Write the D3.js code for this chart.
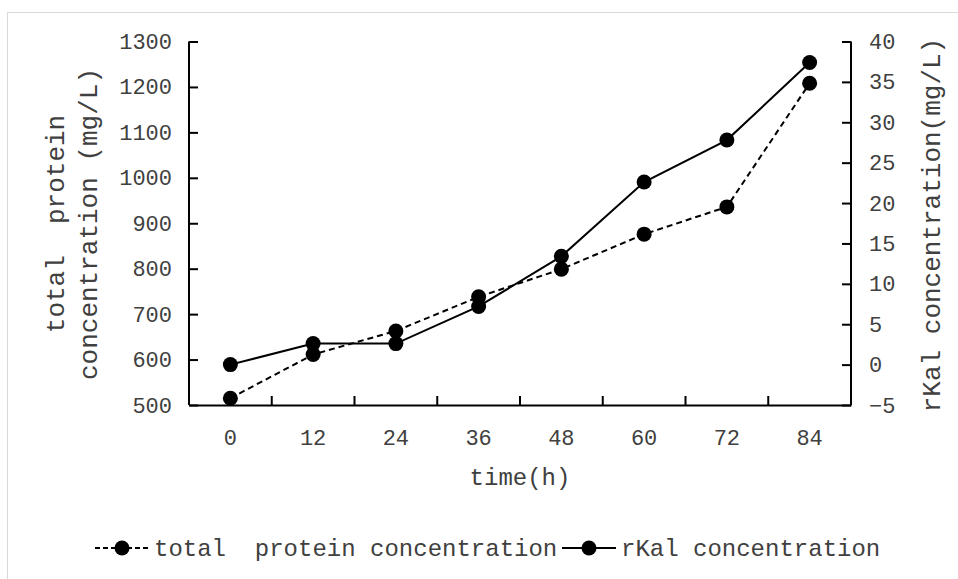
<!DOCTYPE html>
<html>
<head>
<meta charset="utf-8">
<script src="https://cdn.jsdelivr.net/npm/d3@7"></script>
<style>
  html, body { margin: 0; padding: 0; background: #fff; }
  svg { display: block; }
  text { font-family: "Liberation Mono", "DejaVu Sans Mono", monospace; fill: #404040; white-space: pre; }
</style>
</head>
<body>
<svg id="chart" width="958" height="579"></svg>
<script>
// Sampling times (h)
const times = ["0", "12", "24", "36", "48", "60", "72", "84"];
// Total protein concentration (mg/L), left axis
const totalProtein = [515, 611, 663, 738, 799, 876, 936, 1208];
// rKal concentration (mg/L), right axis
const rKal = [0, 2.6, 2.6, 7.2, 13.4, 22.6, 27.8, 37.4];
// Tick values for both value axes
const leftTicks = [500, 600, 700, 800, 900, 1000, 1100, 1200, 1300];
const rightTicks = [-5, 0, 5, 10, 15, 20, 25, 30, 35, 40];

const svg = d3.select("#chart");

// Outer frame of the chart area
svg.append("rect")
  .attr("x", 7.5).attr("y", 12.5)
  .attr("width", 980).attr("height", 600)
  .attr("fill", "none").attr("stroke", "#d9d9d9").attr("stroke-width", 1);

const plot = { left: 189, right: 851, top: 41.5, bottom: 405 };

const x = d3.scaleBand().domain(times).range([plot.left, plot.right]);
const yL = d3.scaleLinear().domain([500, 1300]).range([plot.bottom, plot.top]);
const yR = d3.scaleLinear().domain([-5, 40]).range([plot.bottom, plot.top]);
const cx = d => x(d) + x.bandwidth() / 2;

// Left axis (ticks pointing into the plot)
const gL = svg.append("g").attr("transform", `translate(${plot.left},0)`)
  .call(d3.axisLeft(yL).tickValues(leftTicks).tickFormat(d3.format("d"))
    .tickSizeInner(-9).tickSizeOuter(0).tickPadding(26));
// Right axis
const gR = svg.append("g").attr("transform", `translate(${plot.right},0)`)
  .call(d3.axisRight(yR).tickValues(rightTicks).tickFormat(d3.format("d"))
    .tickSizeInner(-9).tickSizeOuter(0).tickPadding(27));
// Bottom axis with ticks between categories
const gX = svg.append("g").attr("transform", `translate(0,${plot.bottom})`)
  .call(d3.axisBottom(x).tickSize(0).tickPadding(24));

[gL, gR, gX].forEach(g => {
  g.select(".domain").attr("stroke", "#000").attr("stroke-width", 2);
  g.selectAll(".tick line").attr("stroke", "#000").attr("stroke-width", 2);
  g.selectAll(".tick text").style("font-size", "22px").attr("fill", "#404040")
    .style("font-family", '"Liberation Mono", monospace');
});
// Frame the left/right axes to the full height
gL.select(".domain").attr("d", `M0,${plot.top}V${plot.bottom}`);
gR.select(".domain").attr("d", `M0,${plot.top}V${plot.bottom}`);
gL.selectAll(".tick line").attr("x2", 9);
gR.selectAll(".tick line").attr("x2", -9);
gR.selectAll(".tick text").attr("x", 18);
gL.selectAll(".tick text").attr("x", -17);

// Category separator ticks on the time axis
const seps = times.slice(1).map(t => x(t));
gX.selectAll(".sep").data(seps).join("line")
  .attr("x1", d => d).attr("x2", d => d)
  .attr("y1", 0).attr("y2", -9)
  .attr("stroke", "#000").attr("stroke-width", 2);

// Axis titles
svg.append("text").attr("transform", `translate(64,224) rotate(-90)`)
  .attr("text-anchor", "middle").style("font-size", "26px").text("total  protein");
svg.append("text").attr("transform", `translate(97,224) rotate(-90)`)
  .attr("text-anchor", "middle").style("font-size", "26px").text("concentration (mg/L)");
svg.append("text").attr("transform", `translate(940,225) rotate(-90)`)
  .attr("text-anchor", "middle").style("font-size", "26px").text("rKal concentration(mg/L)");
svg.append("text").attr("x", 520).attr("y", 485)
  .attr("text-anchor", "middle").style("font-size", "24px").text("time(h)");

// Series lines
const lineL = d3.line().x((d, i) => cx(times[i])).y(d => yL(d));
const lineR = d3.line().x((d, i) => cx(times[i])).y(d => yR(d));

svg.append("path").datum(totalProtein).attr("d", lineL)
  .attr("fill", "none").attr("stroke", "#000").attr("stroke-width", 2)
  .attr("stroke-dasharray", "6,4");
svg.append("path").datum(rKal).attr("d", lineR)
  .attr("fill", "none").attr("stroke", "#000").attr("stroke-width", 2);

svg.append("g").selectAll("circle").data(totalProtein).join("circle")
  .attr("cx", (d, i) => cx(times[i])).attr("cy", d => yL(d)).attr("r", 7.5).attr("fill", "#000");
svg.append("g").selectAll("circle").data(rKal).join("circle")
  .attr("cx", (d, i) => cx(times[i])).attr("cy", d => yR(d)).attr("r", 7.5).attr("fill", "#000");

// Legend
const legendY = 548;
const legend = svg.append("g");
const items = [
  { label: "total  protein concentration", dash: "5,3", x0: 95 },
  { label: "rKal concentration", dash: null, x0: 562 }
];
items.forEach(it => {
  legend.append("line").attr("x1", it.x0).attr("x2", it.x0 + 54)
    .attr("y1", legendY).attr("y2", legendY)
    .attr("stroke", "#000").attr("stroke-width", 2)
    .attr("stroke-dasharray", it.dash);
  legend.append("circle").attr("cx", it.x0 + 27).attr("cy", legendY).attr("r", 7.5).attr("fill", "#000");
  legend.append("text").attr("x", it.x0 + 59).attr("y", legendY + 8)
    .style("font-size", "24px").text(it.label);
});
</script>
</body>
</html>
